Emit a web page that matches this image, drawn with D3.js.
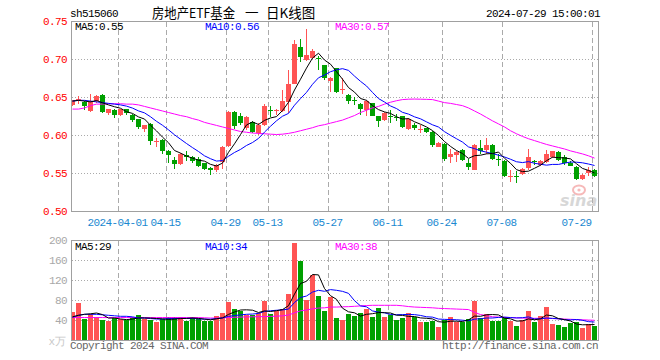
<!DOCTYPE html>
<html><head><meta charset="utf-8">
<script src="https://cdn.jsdelivr.net/npm/d3@7"></script>
<style>
html,body{margin:0;padding:0;background:#fff;}
svg{display:block;}
.mono{font-family:"Liberation Mono","DejaVu Sans Mono",monospace;font-size:11px;letter-spacing:-0.6px;}
</style></head><body>
<svg id="c" width="660" height="360"></svg>
<script>
// ---------------- data ----------------
const dates = [
"2024-03-20","2024-03-21","2024-03-22","2024-03-25","2024-03-26","2024-03-27","2024-03-28","2024-03-29",
"2024-04-01","2024-04-02","2024-04-03","2024-04-08","2024-04-09","2024-04-10","2024-04-11","2024-04-12",
"2024-04-15","2024-04-16","2024-04-17","2024-04-18","2024-04-19","2024-04-22","2024-04-23","2024-04-24","2024-04-25","2024-04-26",
"2024-04-29","2024-04-30","2024-05-06","2024-05-07","2024-05-08","2024-05-09","2024-05-10",
"2024-05-13","2024-05-14","2024-05-15","2024-05-16","2024-05-17","2024-05-20","2024-05-21","2024-05-22","2024-05-23","2024-05-24",
"2024-05-27","2024-05-28","2024-05-29","2024-05-30","2024-05-31","2024-06-03","2024-06-04","2024-06-05","2024-06-06","2024-06-07",
"2024-06-11","2024-06-12","2024-06-13","2024-06-14","2024-06-17","2024-06-18","2024-06-19","2024-06-20","2024-06-21",
"2024-06-24","2024-06-25","2024-06-26","2024-06-27","2024-06-28","2024-07-01","2024-07-02","2024-07-03","2024-07-04","2024-07-05",
"2024-07-08","2024-07-09","2024-07-10","2024-07-11","2024-07-12","2024-07-15","2024-07-16","2024-07-17","2024-07-18","2024-07-19",
"2024-07-22","2024-07-23","2024-07-24","2024-07-25","2024-07-26","2024-07-29"];

const open = [
0.640,0.647,0.644,0.632,0.645,0.653,0.630,0.633,
0.627,0.634,0.627,0.621,0.608,0.615,0.591,0.594,
0.580,0.568,0.562,0.574,0.571,0.569,0.563,0.557,0.555,0.565,
0.586,0.631,0.626,0.609,0.617,0.603,0.613,
0.633,0.632,0.632,0.644,0.668,0.716,0.699,0.702,0.702,0.692,
0.671,0.688,0.660,0.653,0.646,0.641,0.633,0.642,0.626,0.620,
0.625,0.624,0.625,0.608,0.614,0.607,0.609,0.605,0.585,
0.589,0.571,0.574,0.581,0.564,0.554,0.583,0.581,0.587,0.569,
0.566,0.545,0.546,0.549,0.557,0.566,0.561,0.565,0.571,0.578,
0.572,0.564,0.558,0.542,0.550,0.554];

const high = [
0.647,0.652,0.645,0.655,0.653,0.654,0.635,0.634,
0.635,0.635,0.628,0.622,0.614,0.616,0.597,0.595,
0.581,0.571,0.577,0.579,0.573,0.571,0.564,0.558,0.562,0.586,
0.632,0.632,0.629,0.625,0.619,0.616,0.641,
0.638,0.635,0.660,0.686,0.725,0.727,0.740,0.714,0.705,0.693,
0.677,0.689,0.675,0.654,0.651,0.642,0.646,0.643,0.626,0.631,
0.633,0.628,0.626,0.623,0.616,0.613,0.610,0.606,0.591,
0.590,0.582,0.579,0.582,0.569,0.588,0.594,0.596,0.588,0.576,
0.567,0.554,0.553,0.557,0.582,0.567,0.567,0.581,0.580,0.579,
0.574,0.566,0.559,0.549,0.558,0.556];

const low = [
0.639,0.641,0.633,0.631,0.643,0.630,0.627,0.623,
0.626,0.627,0.618,0.608,0.605,0.587,0.585,0.576,
0.563,0.556,0.561,0.566,0.563,0.558,0.554,0.548,0.552,0.556,
0.584,0.608,0.614,0.607,0.603,0.601,0.612,
0.624,0.627,0.631,0.629,0.667,0.697,0.698,0.700,0.686,0.673,
0.657,0.656,0.655,0.641,0.640,0.627,0.625,0.625,0.611,0.619,
0.616,0.619,0.610,0.607,0.607,0.603,0.603,0.585,0.584,
0.566,0.564,0.565,0.566,0.555,0.554,0.576,0.576,0.568,0.560,
0.545,0.538,0.537,0.548,0.555,0.561,0.560,0.564,0.570,0.566,
0.561,0.559,0.541,0.541,0.547,0.545];

const close = [
0.646,0.648,0.639,0.644,0.652,0.631,0.634,0.627,
0.634,0.629,0.620,0.611,0.613,0.593,0.592,0.579,
0.574,0.562,0.576,0.572,0.566,0.560,0.556,0.555,0.561,0.585,
0.631,0.612,0.616,0.624,0.605,0.614,0.639,
0.632,0.633,0.645,0.668,0.720,0.703,0.706,0.711,0.700,0.675,
0.676,0.657,0.661,0.645,0.645,0.634,0.645,0.626,0.619,0.630,
0.624,0.623,0.611,0.622,0.609,0.608,0.605,0.587,0.590,
0.569,0.576,0.578,0.567,0.558,0.587,0.579,0.587,0.569,0.568,
0.546,0.546,0.545,0.556,0.571,0.565,0.566,0.575,0.579,0.568,
0.563,0.560,0.543,0.548,0.555,0.546];

// volume (x10k)
const volume = [
57,74,43,52,47,41,39,44,
42,41,46,51,43,41,37,42,
46,46,46,39,46,42,39,39,49,55,
77,63,59,51,51,54,79,
53,59,62,93,195,159,81,130,89,59,
87,45,41,53,49,54,63,47,65,47,
51,41,45,55,46,37,37,39,27,
41,47,37,36,43,79,45,52,39,39,
46,39,29,41,59,37,49,67,33,31,
27,35,37,25,32,29];

const ma5 = [
0.645,0.646,0.645,0.644,0.6458,0.6428,0.640,0.6376,
0.6356,0.631,0.6288,0.6242,0.6214,0.6132,0.6058,0.5976,
0.5902,0.580,0.5766,0.5726,0.570,0.5672,0.566,0.5618,0.5596,0.5634,
0.5776,0.5888,0.601,0.6136,0.6176,0.6142,0.6196,
0.6228,0.6246,0.6326,0.6434,0.6596,0.6738,0.6884,0.7016,0.708,0.699,
0.6936,0.6838,0.6738,0.6628,0.6568,0.6484,0.646,0.639,0.6338,0.6308,
0.6288,0.6244,0.6214,0.622,0.6178,0.6146,0.611,0.6062,0.5998,
0.5918,0.5854,0.580,0.576,0.5696,0.5732,0.5738,0.5756,0.576,0.578,
0.5698,0.5632,0.5548,0.5522,0.5528,0.5566,0.5606,0.5666,0.5712,0.5706,
0.5702,0.569,0.5626,0.5564,0.5538,0.5504];

const ma10 = [
0.645,0.646,0.646,0.645,0.644,0.643,0.642,0.641,
0.640,0.6384,0.6358,0.6321,0.6295,0.6244,0.6184,0.6132,
0.6072,0.6007,0.5949,0.5892,0.5838,0.5787,0.573,0.5692,0.5661,0.5667,
0.5724,0.5774,0.5814,0.5866,0.5905,0.5959,0.6042,
0.6119,0.6191,0.6251,0.6288,0.6396,0.6483,0.6565,0.6671,0.6757,0.6793,
0.6837,0.6861,0.6877,0.6854,0.6779,0.671,0.6649,0.6564,0.6483,0.6438,
0.6386,0.6352,0.6302,0.6279,0.6243,0.6217,0.6177,0.6138,0.6109,
0.6048,0.600,0.5955,0.5911,0.5847,0.5825,0.5796,0.5778,0.576,0.5738,
0.5715,0.5685,0.5652,0.5641,0.5654,0.5632,0.5619,0.5607,0.5617,0.5617,
0.5634,0.5648,0.5646,0.5638,0.5622,0.5603];

const ma30 = [
0.6345,0.6345,0.636,0.639,0.641,0.641,0.6415,0.6415,
0.6415,0.641,0.641,0.640,0.638,0.636,0.634,0.632,
0.630,0.628,0.626,0.6245,0.622,0.620,0.617,0.615,0.613,0.611,
0.609,0.607,0.605,0.604,0.603,0.6025,0.602,
0.6015,0.601,0.6015,0.6025,0.604,0.606,0.608,0.610,0.6125,0.614,
0.616,0.618,0.620,0.623,0.626,0.630,0.633,0.636,0.638,0.641,
0.6435,0.6455,0.647,0.6475,0.6477,0.6475,0.6473,0.647,0.645,
0.643,0.642,0.6405,0.639,0.636,0.632,0.628,0.6235,0.619,0.615,
0.611,0.606,0.602,0.5985,0.5955,0.593,0.5905,0.588,0.586,0.584,
0.582,0.5795,0.5775,0.5755,0.573,0.570];

const vma5 = [
47,50,52,53,54.6,51.4,44.4,44.6,
42.6,41.4,42.4,44.8,44.6,44.4,43.6,42.8,
41.8,42.4,43.4,43.8,44.6,43.8,42.4,41.0,43.0,44.8,
51.8,56.6,60.6,61.0,60.2,55.6,58.8,
57.6,59.2,61.4,69.2,92.4,113.6,118.0,131.6,130.8,103.6,
89.2,82.0,64.2,57.0,55.0,48.4,52.0,53.2,55.6,55.2,
54.6,50.2,49.8,47.8,47.6,44.8,44.0,42.8,37.2,
36.2,38.2,38.2,37.6,40.8,48.4,48.0,51.0,51.6,50.8,
44.2,43.0,38.4,38.8,42.8,41.0,43.0,50.6,49.0,43.4,
41.4,38.6,32.6,31.0,31.2,31.6];

const vma10 = [
46,50,52,52,52,51,50,49,
48,48.0,46.9,44.6,44.6,43.5,42.5,42.6,
43.3,43.5,43.9,43.7,43.7,42.8,42.4,42.2,43.4,44.7,
47.8,49.5,50.8,52.0,52.5,53.7,57.7,
59.1,60.1,60.8,62.4,75.6,85.6,88.6,96.5,100.0,98.0,
101.4,100.0,97.9,93.9,79.3,68.8,67.0,58.7,56.3,55.1,
51.5,51.1,51.5,51.7,51.4,49.7,47.1,46.3,42.5,
41.9,41.5,41.1,40.2,39.0,42.3,43.1,44.6,44.6,45.8,
46.3,45.5,44.7,45.2,46.8,42.6,43.0,44.5,43.9,43.1,
41.2,40.8,41.6,40.0,37.3,36.5];

const vma30 = [
45.5,45.5,45.5,45.5,45.5,45.5,45.5,45.5,
45.5,45.5,45.5,45.5,45.5,45.5,45.5,45.5,
45.5,45.5,45.5,45.5,45.5,45.5,45,44.5,44.5,45,
45.5,46,46.5,46.8,47,47.2,47.4,
47.8,48.2,49,50.5,55,59,60.5,63,64.5,65,
66.5,66.5,67,67.3,68,68.8,69.5,70,70,70,
70,70,69,67.5,66.5,66,65.5,65,64,
63.5,63,62.5,62,61.5,56,51.5,49.5,47,46.5,
46,45.5,45,44.5,44,44,44,44,43.5,43,
42.5,42,41.5,41,40.5,40];

const priceTicks = [0.50,0.55,0.60,0.65,0.70,0.75];
const volTicks = [40,80,120,160,200];
const dateTicks = ["2024-04-01","2024-04-15","2024-04-29","2024-05-13","2024-05-27","2024-06-11","2024-06-24","2024-07-08","2024-07-29"];
const dateTickLabels = ["2024-04-01","04-15","04-29","05-13","05-27","06-11","06-24","07-08","07-29"];

const code = "sh515060";
const title1 = "房地产ETF基金", title2 = "一", title3 = "日K线图";
const stamp = "2024-07-29 15:00:01";
const priceLegend = ["MA5:0.55","MA10:0.56","MA30:0.57"];
const volLegend = ["MA5:29","MA10:34","MA30:38"];

// ---------------- drawing ----------------
const svg = d3.select("#c");
const RED = "#ff5454", GREEN = "#00a000", GRID = "#aaaaaa", FRAME = "#a0a0a0";
const lineColors = ["#000000", "#0000ff", "#ff00ff"];

const x = d3.scaleBand().domain(dates).range([70, 598]);   // 6px per day
const bw = 5;
const yP = d3.scaleLinear().domain([0.50, 0.75]).range([211.3, 21.3]);
const yV = d3.scaleLinear().domain([0, 200]).range([340.3, 240.3]);

const defs = svg.append("defs");
defs.append("clipPath").attr("id","clipP").append("rect").attr("x",72).attr("y",22).attr("width",526).attr("height",189);
defs.append("clipPath").attr("id","clipV").append("rect").attr("x",72).attr("y",241).attr("width",526).attr("height",100);

// header
svg.append("text").attr("class","mono").attr("x",70).attr("y",17).attr("fill","#000").text(code);
const tf = {"font-family":"'Noto Sans CJK SC',sans-serif","font-size":"13.5px","fill":"#000"};
const t1 = svg.append("text").attr("x",152).attr("y",18).attr("textLength",83).attr("lengthAdjust","spacingAndGlyphs").text(title1);
const t2 = svg.append("text").attr("x",245).attr("y",18).text(title2);
const t3 = svg.append("text").attr("x",266).attr("y",18).text(title3);
[t1,t2,t3].forEach(t=>Object.entries(tf).forEach(([k,v])=>t.attr(k,v)));
svg.append("text").attr("class","mono").attr("x",600).attr("y",17).attr("text-anchor","end").attr("fill","#000").text(stamp);

// grids - price
const gP = svg.append("g");
gP.selectAll("line.h").data(priceTicks.slice(1,-1)).join("line")
  .attr("x1",72).attr("x2",598).attr("y1",d=>Math.round(yP(d))+0.5).attr("y2",d=>Math.round(yP(d))+0.5)
  .attr("stroke",GRID).attr("stroke-dasharray","1,2");
gP.selectAll("line.v").data(dateTicks).join("line")
  .attr("x1",d=>x(d)+0.5).attr("x2",d=>x(d)+0.5).attr("y1",22).attr("y2",211)
  .attr("stroke",GRID).attr("stroke-dasharray","5,3");
// grids - volume
const gV = svg.append("g");
gV.selectAll("line.h").data(volTicks.slice(0,-1)).join("line")
  .attr("x1",72).attr("x2",598).attr("y1",d=>Math.round(yV(d))+0.5).attr("y2",d=>Math.round(yV(d))+0.5)
  .attr("stroke",GRID).attr("stroke-dasharray","1,2");
gV.selectAll("line.v").data(dateTicks).join("line")
  .attr("x1",d=>x(d)+0.5).attr("x2",d=>x(d)+0.5).attr("y1",241).attr("y2",340)
  .attr("stroke",GRID).attr("stroke-dasharray","5,3");

// candles
const idx = d3.range(dates.length);
const cg = svg.append("g").attr("clip-path","url(#clipP)").attr("shape-rendering","crispEdges");
const col = i => close[i] >= open[i] ? RED : GREEN;
cg.selectAll("line.w").data(idx).join("line")
  .attr("x1",i=>x(dates[i])+2.5).attr("x2",i=>x(dates[i])+2.5)
  .attr("y1",i=>yP(high[i])).attr("y2",i=>yP(low[i])).attr("stroke",col);
cg.selectAll("rect").data(idx).join("rect")
  .attr("x",i=>x(dates[i])).attr("width",bw)
  .attr("y",i=>yP(Math.max(open[i],close[i])))
  .attr("height",i=>Math.max(1, Math.abs(yP(open[i])-yP(close[i]))))
  .attr("fill",col);

// MA lines - price
const lg = svg.append("g").attr("clip-path","url(#clipP)").attr("fill","none");
[ma30, ma10, ma5].forEach((arr,k)=>{
  const line = d3.line().x((d,i)=>x(dates[i])+2.5).y(d=>yP(d));
  lg.append("path").attr("d",line(arr)).attr("stroke",lineColors[2-k]).attr("stroke-width",1);
});

// volume bars
const vg = svg.append("g").attr("clip-path","url(#clipV)").attr("shape-rendering","crispEdges");
vg.selectAll("rect").data(idx).join("rect")
  .attr("x",i=>x(dates[i])).attr("width",bw)
  .attr("y",i=>yV(volume[i])).attr("height",i=>yV(0)-yV(volume[i]))
  .attr("fill",col);
const vlg = svg.append("g").attr("clip-path","url(#clipV)").attr("fill","none");
[vma30, vma10, vma5].forEach((arr,k)=>{
  const line = d3.line().x((d,i)=>x(dates[i])+2.5).y(d=>yV(d));
  vlg.append("path").attr("d",line(arr)).attr("stroke",lineColors[2-k]).attr("stroke-width",1);
});

// frames
svg.append("rect").attr("x",71.5).attr("y",21.5).attr("width",527).attr("height",190)
  .attr("fill","none").attr("stroke",FRAME);
svg.append("rect").attr("x",71.5).attr("y",240.5).attr("width",527).attr("height",100)
  .attr("fill","none").attr("stroke",FRAME);

// axes
function styleAxis(g, color){
  g.select(".domain").remove();
  g.selectAll(".tick line").remove();
  g.attr("font-family",null).attr("font-size",null);
  g.selectAll("text").attr("class","mono").attr("fill",color);
}
const ay = svg.append("g").attr("transform","translate(71,0)")
  .call(d3.axisLeft(yP).tickValues(priceTicks).tickFormat(d3.format(".2f")).tickSize(0).tickPadding(4));
styleAxis(ay, "#ff0000");
const av = svg.append("g").attr("transform","translate(71,0)")
  .call(d3.axisLeft(yV).tickValues(volTicks).tickFormat(d3.format("d")).tickSize(0).tickPadding(4));
styleAxis(av, "#a8a8a8");
const ax = svg.append("g").attr("transform","translate(-3.5,211)")
  .call(d3.axisBottom(x).tickValues(dateTicks).tickFormat((d,i)=>dateTickLabels[i]).tickSize(0).tickPadding(7));
styleAxis(ax, "#1a88d0");
ax.selectAll(".tick text").filter((d,i)=>i===dateTicks.length-1).attr("text-anchor","end");

svg.append("text").attr("class","mono").attr("x",65).attr("y",345).attr("text-anchor","end")
  .attr("fill","#c8c8c8").text("x万");

// legends
const lx = [75, 205, 335];
priceLegend.forEach((t,k)=>svg.append("text").attr("class","mono").attr("x",lx[k]).attr("y",30).attr("fill",lineColors[k]).text(t));
volLegend.forEach((t,k)=>svg.append("text").attr("class","mono").attr("x",lx[k]).attr("y",250).attr("fill",lineColors[k]).text(t));

// footer
svg.append("text").attr("class","mono").attr("x",70).attr("y",349).attr("fill","#666").text("Copyright 2024 SINA.COM");
svg.append("text").attr("class","mono").attr("x",598).attr("y",349).attr("text-anchor","end").attr("fill","#666").text("http://finance.sina.com.cn");

// sina watermark
const wm = svg.append("g").attr("opacity",0.55);
wm.append("ellipse").attr("cx",579).attr("cy",190).attr("rx",6).attr("ry",4.5).attr("fill","none").attr("stroke","#f08080").attr("stroke-width",2);
wm.append("circle").attr("cx",579).attr("cy",190).attr("r",1.6).attr("fill","#f08080");
wm.append("text").attr("x",560).attr("y",206).attr("font-family","'DejaVu Sans',sans-serif").attr("font-style","italic")
  .attr("font-weight","bold").attr("font-size","16px").attr("fill","#b8b8b8").text("sina");
</script>
</body></html>
